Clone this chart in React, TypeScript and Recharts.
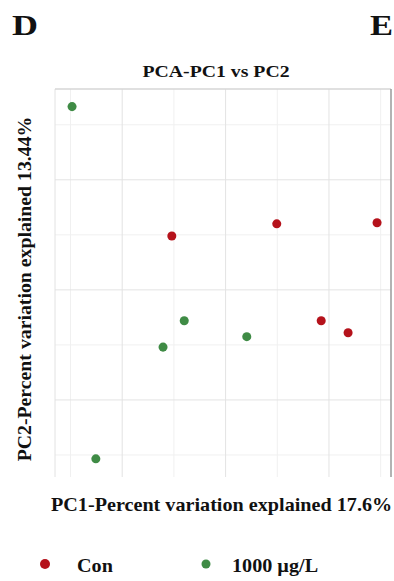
import { ScatterChart, Scatter, XAxis, YAxis, ZAxis, CartesianGrid, ReferenceLine } from "recharts";

// PC1 / PC2 scores per sample
const CON_PC1 = [-10.4, 9.9, 29.3, 18.5, 23.7];
const CON_PC2 = [9.8, 12.0, 12.2, -5.6, -7.8];
const DOSE_PC1 = [-29.7, -25.1, -12.1, -8.0, 4.1];
const DOSE_PC2 = [33.3, -30.7, -10.4, -5.6, -8.5];

const GROUPS = ["Con", "1000 µg/L"];
const COLORS = ["#b5121b", "#3f8b45"];

const X_DOMAIN = [-33, 32];
const Y_DOMAIN = [-34, 36.5];
const X_MAJOR = [-20, 0, 20];
const X_MINOR = [-30, -10, 10, 30];
const Y_MAJOR = [20, 0, -20];
const Y_MINOR = [30, 10, -10, -30];

const toPoints = (xs: number[], ys: number[]) => xs.map((x, i) => ({ x, y: ys[i] }));
const conData = toPoints(CON_PC1, CON_PC2);
const doseData = toPoints(DOSE_PC1, DOSE_PC2);

const FONT = '"Liberation Serif", "Times New Roman", serif';

function Labels() {
  return (
    <svg
      width={394}
      height={581}
      style={{ position: "absolute", left: 0, top: 0, pointerEvents: "none" }}
      fontFamily={FONT}
      fontWeight="bold"
      fill="#111"
    >
      <text transform="translate(12,35) scale(1.2,1)" fontSize={30}>D</text>
      <text transform="translate(370,35) scale(1.15,1)" fontSize={30}>E</text>
      <text transform="translate(216,77) scale(1.13,1)" fontSize={17.5} textAnchor="middle">
        PCA-PC1 vs PC2
      </text>
      <text transform="translate(51,511) scale(1.12,1)" fontSize={18}>
        PC1-Percent variation explained 17.6%
      </text>
      <text transform="translate(31,289) rotate(-90) scale(1.1,1)" fontSize={18} textAnchor="middle">
        PC2-Percent variation explained 13.44%
      </text>
      {/* legend */}
      <circle cx={45} cy={564} r={5} fill={COLORS[0]} />
      <text transform="translate(77,572) scale(1.12,1)" fontSize={18}>{GROUPS[0]}</text>
      <circle cx={206} cy={564} r={4.5} fill={COLORS[1]} />
      <text transform="translate(232,572) scale(1.12,1)" fontSize={18}>{GROUPS[1]}</text>
    </svg>
  );
}

export default function App() {
  return (
    <div style={{ position: "absolute", left: 0, top: 0, width: 394, height: 581, background: "#fff" }}>
      <ScatterChart width={394} height={581} margin={{ top: 89, right: 3, bottom: 104, left: 55 }}>
        <CartesianGrid stroke="#f0f0f0" verticalValues={X_MINOR} horizontalValues={Y_MINOR} />
        <CartesianGrid stroke="#e3e3e3" verticalValues={X_MAJOR} horizontalValues={Y_MAJOR} />
        <XAxis
          type="number"
          dataKey="x"
          domain={X_DOMAIN}
          ticks={X_MAJOR}
          allowDataOverflow
          height={0}
          tickSize={4}
          tick={() => <g />}
          tickLine={{ stroke: "#888" }}
          axisLine={{ stroke: "#7a7a7a", strokeWidth: 2 }}
        />
        <YAxis type="number" dataKey="y" domain={Y_DOMAIN} allowDataOverflow hide />
        <ZAxis range={[64, 64]} />
        <ReferenceLine x={X_DOMAIN[0]} stroke="#e2e2e2" />
        <ReferenceLine y={Y_DOMAIN[1]} stroke="#d6d6d6" strokeWidth={1.5} />
        <ReferenceLine x={X_DOMAIN[1]} stroke="#9a9a9a" strokeWidth={1.5} />
        <Scatter name={GROUPS[0]} data={conData} fill={COLORS[0]} isAnimationActive={false} />
        <Scatter name={GROUPS[1]} data={doseData} fill={COLORS[1]} isAnimationActive={false} />
      </ScatterChart>
      <Labels />
    </div>
  );
}
